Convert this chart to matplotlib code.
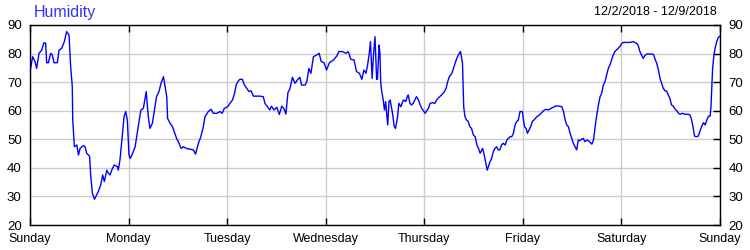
import matplotlib
matplotlib.use("Agg")
import matplotlib.pyplot as plt

# hours since Sunday 00:00 and humidity (%)
hours = [
    0.0, 0.65, 1.22, 1.62, 2.19, 2.84, 3.41, 3.82, 4.06, 4.47, 5.03, 5.44,
    5.85, 6.66, 7.06, 7.71, 8.36, 8.93, 9.5, 9.9, 10.3, 10.4, 10.8, 11.4,
    11.8, 12.2, 13.0, 13.4, 13.8, 14.5, 14.8, 15.2, 15.7, 16.2, 16.6, 17.2,
    17.7, 18.1, 18.7, 19.1, 19.5, 19.9, 20.5, 21.3, 21.5, 21.9, 22.3, 22.9,
    23.3, 23.7, 24.1, 24.4, 25.0, 25.6, 26.1, 26.6, 27.0, 27.6, 28.0, 28.3,
    28.8, 29.2, 29.8, 30.3, 30.8, 31.4, 31.9, 32.5, 32.9, 33.3, 33.5, 34.1,
    34.7, 35.1, 35.7, 36.1, 36.8, 37.3, 38.1, 39.0, 39.8, 40.3, 41.0, 41.6,
    42.2, 42.6, 43.4, 44.1, 44.6, 45.5, 46.3, 46.8, 47.3, 48.1, 48.7, 49.3,
    49.8, 50.2, 50.6, 51.1, 51.7, 52.2, 52.8, 53.3, 53.8, 54.4, 55.2, 56.0,
    56.8, 57.2, 57.8, 58.4, 58.8, 59.4, 60.1, 60.7, 61.3, 61.8, 62.3, 62.8,
    63.3, 63.9, 64.5, 65.1, 65.7, 66.1, 67.0, 67.4, 67.9, 68.4, 69.0, 69.8,
    70.4, 70.9, 71.6, 72.2, 72.9, 73.9, 74.7, 75.2, 76.1, 76.9, 77.5, 78.1,
    78.9, 79.5, 80.2, 80.8, 81.3, 81.8, 82.2, 82.6, 82.9, 83.3, 83.6, 84.0,
    84.4, 84.6, 85.0, 85.2, 85.4, 85.6, 86.0, 86.3, 86.6, 86.8, 87.1, 87.4,
    87.7, 87.9, 88.2, 88.7, 89.0, 89.5, 89.8, 90.3, 90.9, 91.5, 91.9, 92.1,
    92.5, 92.9, 93.3, 93.7, 94.1, 94.6, 95.0, 95.4, 95.8, 96.2, 96.6, 97.0,
    97.4, 98.0, 98.6, 99.0, 99.6, 100.2, 100.9, 101.3, 101.7, 102.1, 102.7,
    103.1, 103.5, 103.9, 104.3, 104.8, 104.9, 105.3, 105.6, 105.9, 106.3,
    106.7, 107.1, 107.5, 107.95, 108.4, 108.8, 109.2, 109.6, 110.0, 110.2,
    110.6, 111.0, 111.3, 111.6, 112.0, 112.4, 112.8, 113.2, 113.6, 114.0,
    114.4, 114.8, 115.2, 115.7, 116.1, 116.5, 116.9, 117.3, 117.7, 118.1,
    118.5, 118.9, 119.3, 119.9, 120.1, 120.4, 120.8, 121.1, 121.5, 121.9,
    122.3, 122.7, 123.4, 124.0, 124.6, 125.0, 125.6, 126.2, 126.8, 127.4,
    128.0, 128.6, 129.5, 129.9, 130.3, 130.7, 131.1, 131.5, 131.9, 132.3,
    132.7, 133.1, 133.5, 133.9, 134.3, 134.7, 135.1, 135.7, 136.2, 136.8,
    137.2, 137.6, 138.0, 138.4, 138.8, 139.2, 139.6, 140.0, 140.4, 140.8,
    141.2, 141.6, 142.0, 142.4, 142.8, 143.2, 143.7, 144.1, 144.5, 145.3,
    146.1, 146.9, 147.3, 147.7, 148.1, 148.5, 148.9, 149.3, 149.7, 150.2,
    151.0, 151.8, 152.2, 152.6, 153.0, 153.4, 153.8, 154.2, 154.6, 155.0,
    155.4, 155.8, 156.2, 156.6, 157.1, 157.5, 157.9, 158.3, 158.8, 159.5,
    160.3, 160.7, 161.1, 161.5, 161.8, 162.3, 162.7, 163.1, 163.5, 164.0,
    164.4, 164.8, 165.2, 165.6, 165.8, 166.0, 166.2, 166.4, 166.6, 166.8,
    167.2, 167.6, 168.0,
]
humidity = [
    73.7, 78.9, 77.2, 74.8, 80.1, 81.2, 83.8, 83.6, 76.8, 76.8, 80.1, 79.5,
    76.8, 76.8, 81.2, 81.8, 84.2, 87.7, 86.5, 75.4, 68.4, 57.0, 47.4, 48.0,
    44.5, 46.8, 47.8, 47.4, 45.1, 44.1, 36.9, 31.1, 29.0, 30.5, 31.6, 34.0,
    37.5, 35.2, 39.2, 38.1, 37.5, 39.2, 41.0, 40.4, 39.2, 42.7, 48.6, 57.9,
    59.7, 56.75, 44.5, 43.3, 45.1, 47.4, 52.1, 56.75, 60.25, 60.8, 64.3, 66.7,
    57.9, 53.8, 55.6, 60.25, 64.9, 66.7, 69.6, 71.9, 68.4, 64.9, 57.3, 55.6,
    54.4, 52.7, 50.3, 49.2, 46.8, 47.4, 46.8, 46.5, 46.3, 44.8, 48.6, 50.9,
    54.4, 57.9, 59.7, 60.5, 59.1, 59.1, 59.7, 59.1, 60.8, 61.4, 62.6, 63.75,
    66.1, 69.0, 70.2, 71.0, 71.0, 69.0, 67.8, 66.7, 67.0, 65.1, 65.1, 65.1,
    64.9, 62.6, 61.4, 60.25, 61.6, 60.25, 61.2, 58.7, 61.6, 60.8, 58.8, 66.3,
    67.8, 71.7, 69.6, 70.75, 71.7, 69.0, 69.0, 70.2, 74.8, 73.1, 78.9, 79.5,
    80.1, 77.2, 76.8, 74.25, 76.8, 77.75, 79.15, 80.7, 80.7, 80.1, 80.7, 78.0,
    77.75, 73.7, 73.1, 71.0, 74.25, 73.1, 76.0, 80.1, 84.2, 71.3, 78.9, 85.9,
    71.0, 71.0, 83.0, 80.1, 69.6, 67.2, 63.75, 60.25, 63.2, 59.7, 55.0, 63.2,
    63.75, 62.0, 59.7, 54.4, 53.8, 57.9, 62.6, 61.4, 63.75, 63.2, 65.1, 65.5,
    62.6, 62.0, 62.6, 63.75, 64.9, 63.75, 62.0, 60.8, 60.0, 59.1, 60.0, 60.8,
    62.6, 62.8, 62.6, 63.75, 64.7, 65.5, 66.7, 67.8, 70.2, 71.9, 73.1,
    74.8, 76.6, 78.3, 79.5, 80.7, 80.1, 76.6, 61.4, 57.9, 56.75,
    56.2, 54.4, 53.8, 51.5, 50.9, 48.0, 46.8, 45.1, 46.3, 46.8,
    44.5, 41.6, 39.2, 40.4, 42.2, 43.3, 45.7, 46.8, 47.4, 46.3,
    46.3, 48.0, 48.6, 48.0, 49.75, 50.3, 50.9, 50.9, 52.1, 55.0,
    56.2, 56.75, 59.7, 59.7, 57.3, 54.4, 53.8, 52.1, 53.25, 54.4,
    56.2, 56.75, 57.9, 58.5, 59.3, 60.0, 60.5, 60.25, 60.8, 61.2,
    61.65, 61.65, 61.4, 59.7, 56.75, 55.0, 54.4, 52.1, 50.3, 48.6,
    47.4, 46.3, 49.75, 49.5, 50.0, 50.3, 49.2, 49.75, 49.2, 48.3,
    49.75, 54.4, 58.5, 62.0, 64.9, 66.1, 69.0, 70.2, 72.5, 74.8,
    76.0, 77.75, 79.5, 80.7, 81.25, 81.8, 82.65, 83.6, 83.9, 83.9,
    83.9, 84.2, 83.8, 83.6, 82.8, 80.7, 79.5, 78.3, 79.3, 79.85,
    79.85, 79.7, 78.0, 76.6, 74.25, 71.3, 69.6, 67.8, 67.0, 66.9,
    65.5, 64.3, 62.0, 61.65, 60.5, 60.0, 59.1, 58.75, 59.1, 58.75,
    58.75, 58.5, 56.75, 53.8, 51.1, 50.9, 51.1, 52.7, 54.4, 55.8,
    55.0, 56.75, 58.1, 58.1, 61.4, 68.4, 74.8, 77.75, 80.1, 81.8,
    84.2, 85.7, 86.1,
]
day_labels = ["Sunday", "Monday", "Tuesday", "Wednesday", "Thursday",
              "Friday", "Saturday", "Sunday"]
y_ticks = [20, 30, 40, 50, 60, 70, 80, 90]
title = "Humidity"
date_range = "12/2/2018 - 12/9/2018"

plt.rcParams["font.family"] = ["Liberation Sans", "DejaVu Sans"]

fig = plt.figure(figsize=(7.5, 2.5), dpi=100)
ax = fig.add_axes([30 / 750, 25 / 250, 690 / 750, 200 / 250])

days = [h / 24 for h in hours]
ax.plot(days, humidity, color="#0000ff", lw=1.0)

ax.set_xlim(0, 7)
ax.set_ylim(20, 90)
ax.set_xticks(range(len(day_labels)))
ax.set_xticklabels(day_labels, fontsize=9)
ax.set_yticks(y_ticks)
ax.set_yticklabels([str(v) for v in y_ticks], fontsize=9.5)

ax.grid(True, color="#cccccc", lw=1.0)
ax.set_axisbelow(True)
for sp in ax.spines.values():
    sp.set_color("black")
    sp.set_linewidth(1.0)

ax.tick_params(axis="x", direction="in", length=5, width=1, top=True,
               bottom=True, pad=6)
ax.tick_params(axis="y", direction="in", length=5, width=1, left=False,
               right=True, labelright=True, pad=6)
ax.tick_params(axis="y", which="major", pad=6)

fig.text(34 / 750, 1 - 13 / 250, title, color="#3030ff", fontsize=11.5,
         ha="left", va="center")
fig.text(717 / 750, 1 - 12 / 250, date_range, color="black", fontsize=9,
         ha="right", va="center")

fig.savefig("out.png", dpi=100)
